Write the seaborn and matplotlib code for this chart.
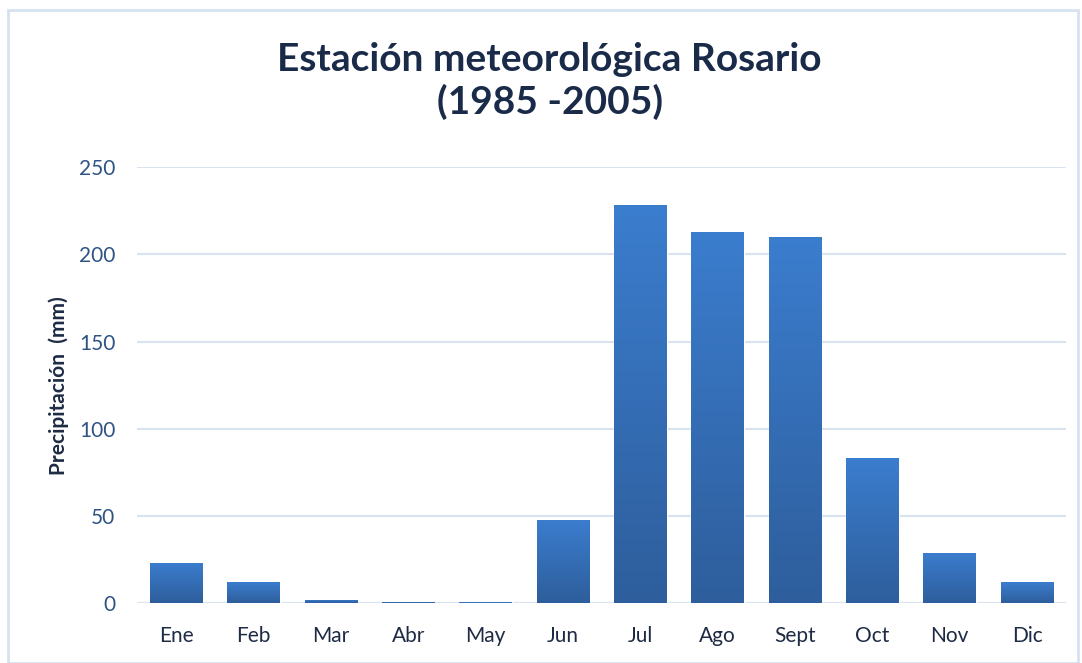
import numpy as np
import pandas as pd
import matplotlib.pyplot as plt
import seaborn as sns
from matplotlib.patches import Rectangle
from matplotlib.colors import LinearSegmentedColormap

# datos
meses = ["Ene", "Feb", "Mar", "Abr", "May", "Jun", "Jul", "Ago", "Sept", "Oct", "Nov", "Dic"]
precip = [23, 12, 2, 1, 0.5, 48, 228, 213, 210, 83, 29, 12]
y_ticks = [0, 50, 100, 150, 200, 250]

df = pd.DataFrame({"mes": meses, "mm": precip})

sns.set_theme(style="white")
plt.rcParams['font.family'] = ['Lato', 'DejaVu Sans']

fig = plt.figure(figsize=(10.82, 6.63), dpi=100)
ax = fig.add_axes([0.127, 0.09, 0.858, 0.658])

sns.barplot(data=df, x="mes", y="mm", ax=ax, width=0.68, color="#3A7BCB",
            saturation=1, zorder=3)

# degradado vertical en cada barra
cmap = LinearSegmentedColormap.from_list("grad", ["#2E5E9C", "#3B7DCE"])
grad = np.linspace(0, 1, 256).reshape(-1, 1)
for bar in ax.patches:
    x0, y0 = bar.get_x(), bar.get_y()
    w, h = bar.get_width(), bar.get_height()
    im = ax.imshow(grad, extent=[x0, x0 + w, y0, y0 + h], origin="lower",
                   aspect="auto", cmap=cmap, zorder=4)
    im.set_clip_path(bar)

ax.set_xlim(-0.5, len(meses) - 0.5)
ax.set_ylim(0, 250)
ax.set_yticks(y_ticks)
ax.grid(axis="y", color="#D9E3F0", linewidth=1.5, zorder=0)
ax.set_axisbelow(True)
sns.despine(ax=ax, left=True, bottom=True, top=True, right=True)
ax.tick_params(axis="y", colors="#2F5385", labelsize=15, length=0, pad=16)
ax.tick_params(axis="x", colors="#1E2B44", labelsize=15, length=0, pad=16)
ax.set_xlabel("")
ax.set_ylabel("Precipitación  (mm)", fontsize=15, fontweight="bold",
              color="#1E2B44")
ax.yaxis.set_label_coords(-0.074, 0.5)

fig.text(0.508, 0.878, "Estación meteorológica Rosario\n(1985 -2005)",
         ha="center", va="center", fontsize=28, fontweight="bold",
         color="#1A2B4A", linespacing=1.25)

# borde del area del grafico
fig.patches.append(Rectangle((8 / 1082, 0), 1 - 12 / 1082, 1 - 10 / 663,
                             transform=fig.transFigure, fill=False,
                             edgecolor="#D6E2F1", linewidth=2))

fig.savefig("out.png", dpi=100)
